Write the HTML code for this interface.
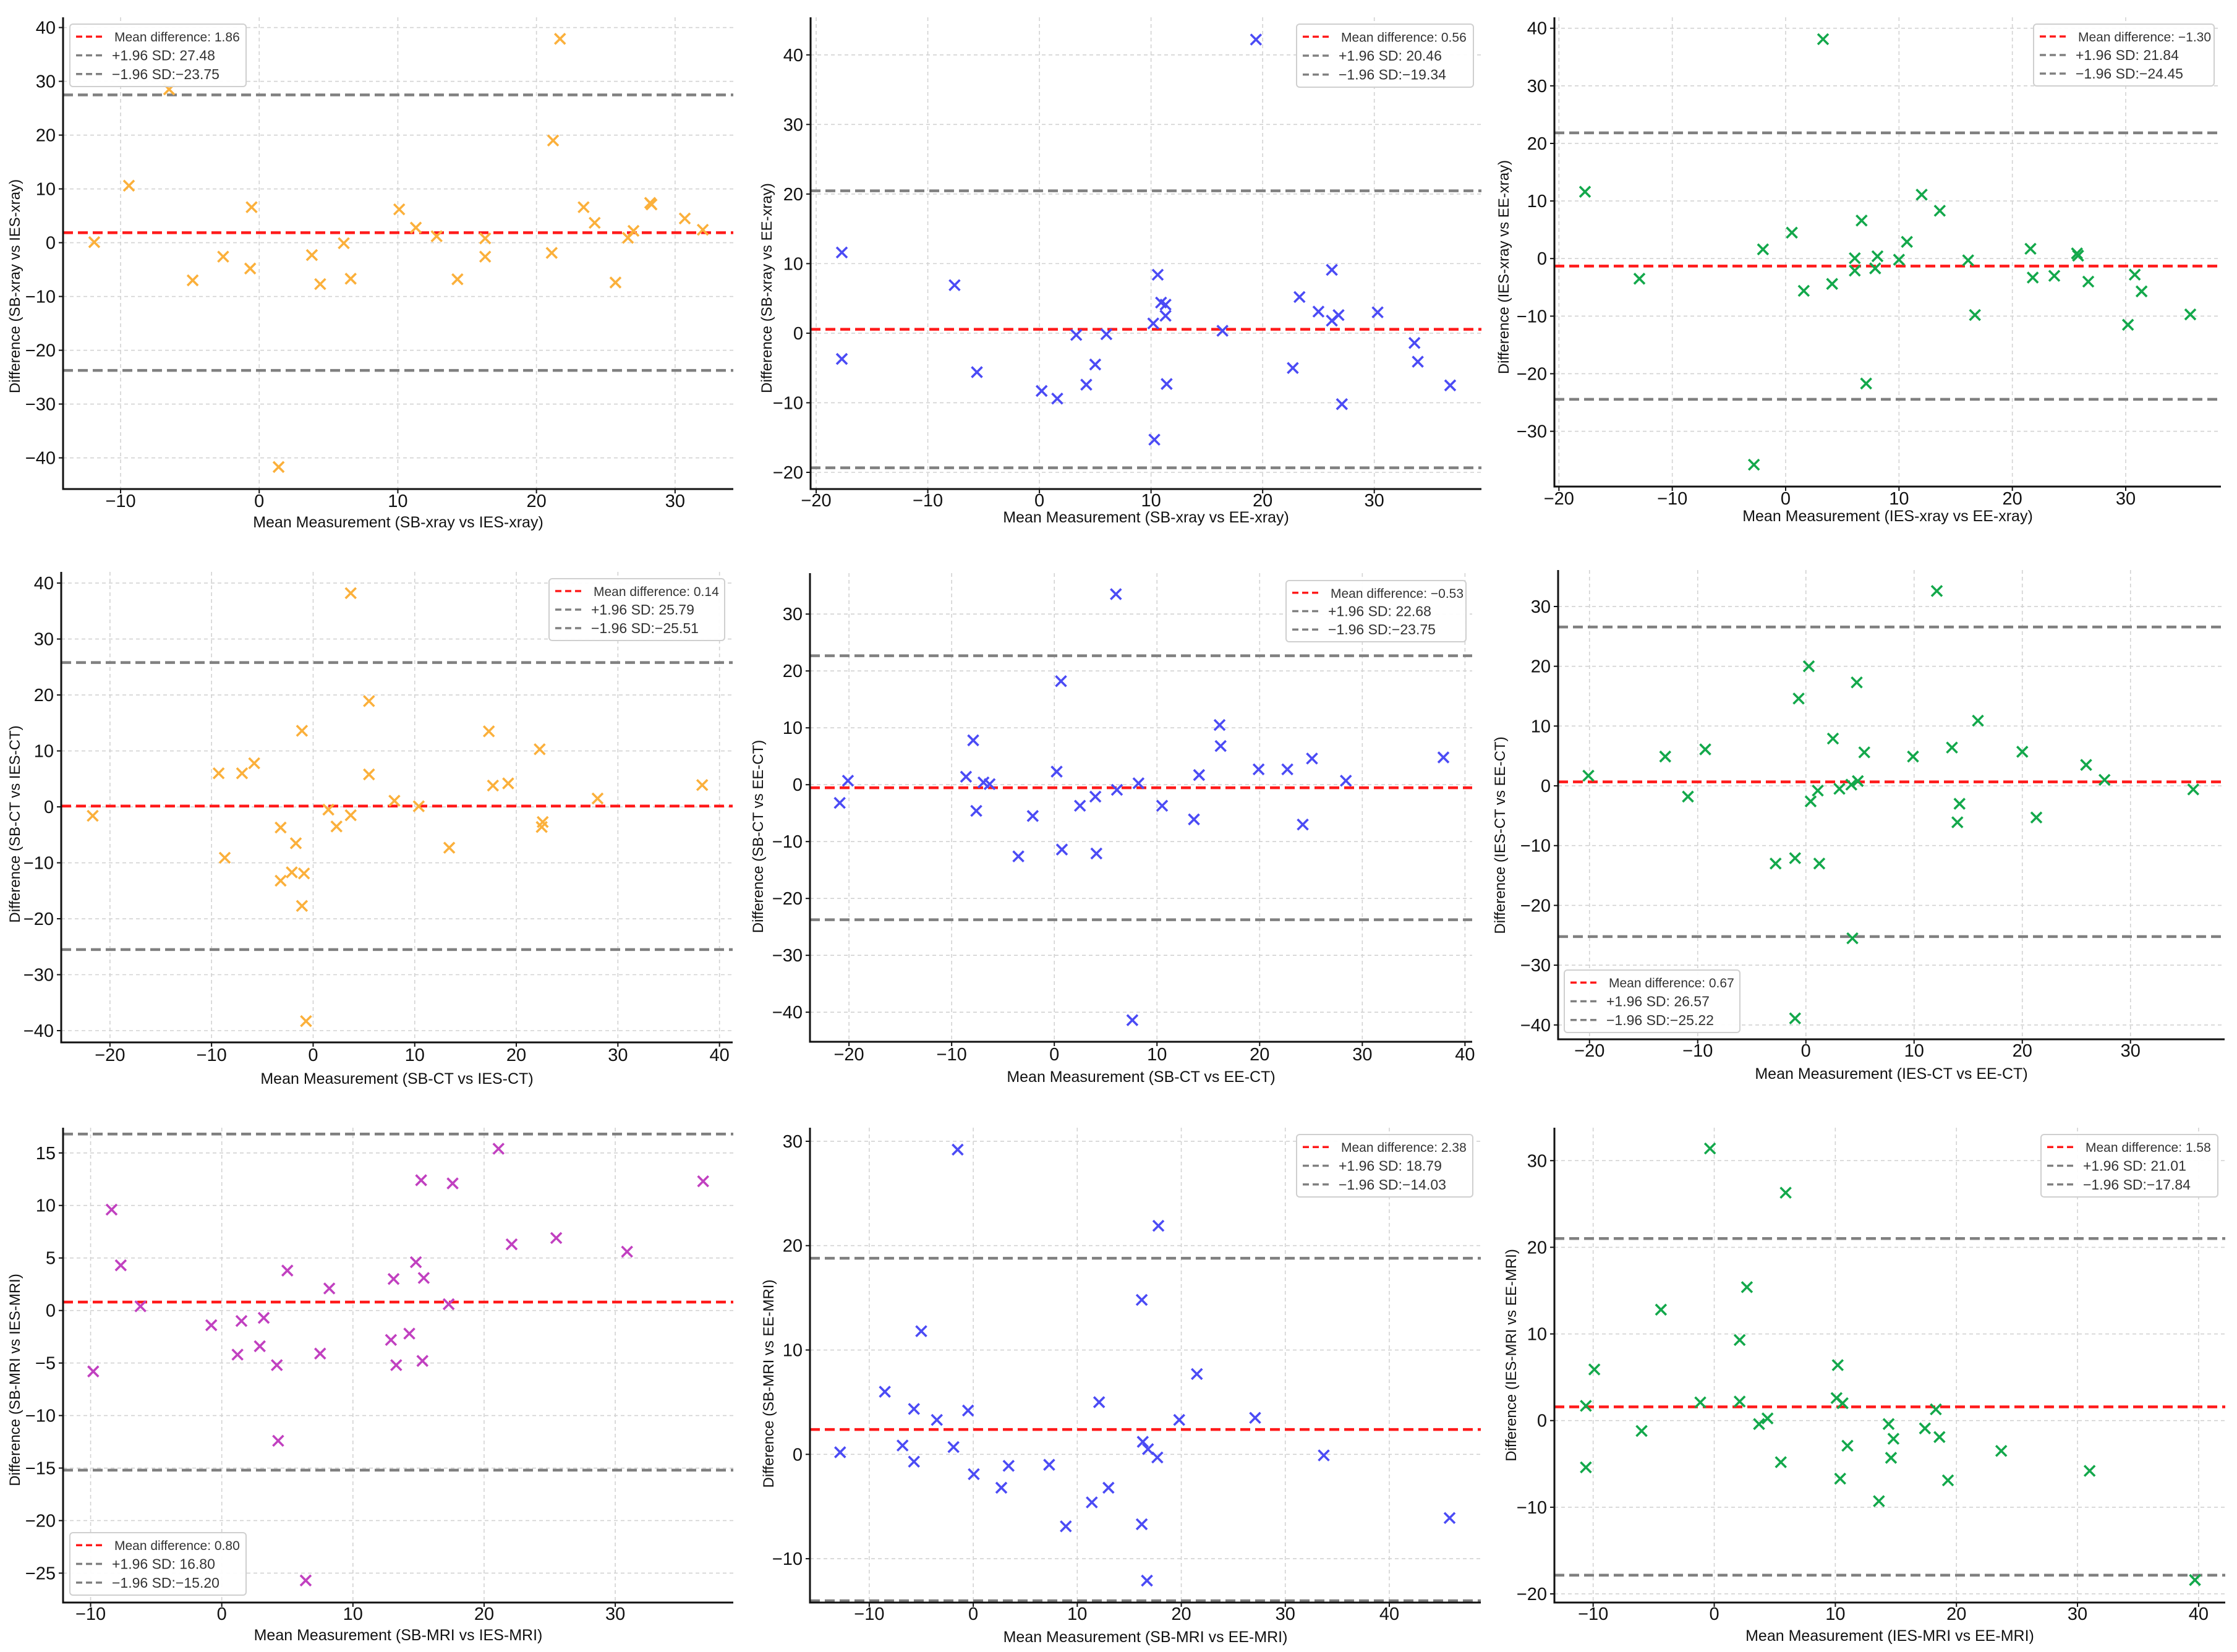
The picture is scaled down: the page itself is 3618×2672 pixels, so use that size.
<!DOCTYPE html>
<html><head><meta charset="utf-8">
<style>
html,body{margin:0;padding:0;background:#fff;}
svg{display:block;}
text{font-family:"Liberation Sans",sans-serif;}
</style></head>
<body>
<svg id="fig" xmlns="http://www.w3.org/2000/svg" width="3618" height="2672" viewBox="0 0 3618 2672"></svg>
<script>
// ---------- Data ----------
const p1X=[21.7,-6.5,21.2,-9.4,-0.55,10.1,23.4,28.2,28.3,30.7,24.2,11.3,32.0,27.0,12.8,26.6,16.3,-11.9,6.1,21.1,-2.6,3.8,16.3,-0.65,-4.8,6.6,14.3,4.4,25.7,1.4];
const p1Y=[37.9,28.5,19.0,10.6,6.6,6.2,6.6,7.4,7.1,4.5,3.7,2.8,2.4,2.2,1.2,0.9,0.8,0.1,-0.1,-1.9,-2.6,-2.3,-2.6,-4.8,-7.0,-6.7,-6.8,-7.7,-7.4,-41.7];
const p1Stats=[1.86,27.48,-23.75];
const p2X=[19.4,-17.7,-17.7,-7.6,-5.6,0.2,1.6,3.3,4.2,5.0,6.0,10.2,10.3,10.6,10.9,11.3,11.3,11.4,16.4,22.7,23.3,25.0,26.2,26.2,26.8,27.1,30.3,33.6,33.9,36.8];
const p2Y=[42.2,11.6,-3.7,6.9,-5.6,-8.3,-9.4,-0.25,-7.4,-4.5,-0.15,1.4,-15.3,8.4,4.4,4.1,2.5,-7.3,0.35,-5.0,5.2,3.1,9.1,1.8,2.6,-10.2,3.0,-1.4,-4.1,-7.5];
const p2Stats=[0.56,20.46,-19.34];
const p3X=[3.3,-17.7,-12.9,-2.0,0.55,1.6,4.1,-2.8,6.1,6.1,6.7,7.1,7.9,8.1,10.0,10.7,12.0,13.6,16.1,16.7,21.6,21.8,23.7,25.7,25.8,26.7,30.2,30.8,31.4,35.7];
const p3Y=[38.1,11.6,-3.5,1.6,4.5,-5.6,-4.4,-35.8,0.06,-2.1,6.6,-21.7,-1.7,0.4,-0.2,2.9,11.1,8.3,-0.3,-9.8,1.7,-3.3,-3.0,0.9,0.5,-4.0,-11.5,-2.8,-5.7,-9.7];
const p3Stats=[-1.30,21.84,-24.45];
const p4X=[3.7,5.5,-1.1,17.3,22.3,-5.8,-9.3,-7.0,5.5,17.7,19.2,38.3,28.0,8.0,10.4,-21.7,1.5,3.7,2.3,-3.2,22.6,22.5,-1.7,13.4,-8.7,-2.1,-0.9,-3.2,-1.1,-0.7];
const p4Y=[38.2,18.9,13.6,13.5,10.3,7.8,6.0,6.0,5.8,3.8,4.2,3.9,1.5,1.1,0.1,-1.6,-0.5,-1.5,-3.5,-3.7,-2.7,-3.6,-6.5,-7.3,-9.1,-11.7,-11.9,-13.2,-17.7,-38.3];
const p4Stats=[0.14,25.79,-25.51];
const p5X=[6.0,0.65,16.1,16.2,-7.9,25.1,37.9,19.9,22.7,0.23,14.1,-8.6,-20.1,28.4,8.2,-6.9,-6.3,6.1,-20.9,4.0,2.5,10.5,-7.6,-2.1,13.6,24.2,0.74,4.1,-3.5,7.6];
const p5Y=[33.5,18.2,10.5,6.8,7.8,4.6,4.8,2.7,2.7,2.3,1.7,1.4,0.7,0.7,0.25,0.4,0.1,-0.9,-3.2,-2.1,-3.7,-3.7,-4.6,-5.5,-6.1,-7.0,-11.4,-12.1,-12.6,-41.4];
const p5Stats=[-0.53,22.68,-23.75];
const p6X=[12.1,0.27,4.7,-0.67,15.9,2.5,13.5,-9.3,20.0,5.4,-13.0,9.9,25.9,-20.1,27.6,4.8,4.2,3.1,1.1,35.8,0.44,-10.9,14.2,14.0,21.3,-1.0,-2.8,1.24,4.3,-1.0];
const p6Y=[32.6,20.0,17.3,14.6,10.9,7.9,6.4,6.1,5.7,5.6,4.9,4.9,3.5,1.7,1.0,0.8,0.2,-0.5,-0.8,-0.6,-2.6,-1.8,-3.0,-6.1,-5.3,-12.1,-13.0,-13.0,-25.5,-38.9];
const p6Stats=[0.67,26.57,-25.22];
const p7X=[21.1,15.2,17.6,36.7,-8.4,25.5,22.1,30.9,-7.7,14.8,5.0,13.1,15.4,8.2,17.3,-6.2,-0.8,1.5,3.2,14.3,12.9,2.9,1.2,7.5,4.2,13.3,15.3,-9.8,4.3,6.4];
const p7Y=[15.4,12.4,12.1,12.3,9.6,6.9,6.3,5.6,4.3,4.6,3.8,3.0,3.1,2.1,0.6,0.4,-1.4,-1.0,-0.7,-2.2,-2.8,-3.4,-4.2,-4.1,-5.2,-5.2,-4.8,-5.8,-12.4,-25.7];
const p7Stats=[0.80,16.80,-15.20];
const p8X=[-1.5,17.8,16.2,-5.0,21.5,-8.5,12.1,-5.7,-0.5,-3.5,19.8,27.1,-6.8,16.3,-1.9,16.8,-12.8,17.7,33.7,-5.7,3.4,7.3,0.05,2.7,13.0,11.4,8.9,16.2,45.8,16.7];
const p8Y=[29.2,21.9,14.8,11.8,7.7,6.0,5.0,4.35,4.2,3.3,3.3,3.5,0.85,1.2,0.7,0.5,0.2,-0.3,-0.1,-0.7,-1.1,-1.0,-1.9,-3.2,-3.2,-4.6,-6.9,-6.7,-6.1,-12.1];
const p8Stats=[2.38,18.79,-14.03];
const p9X=[-0.35,5.9,2.7,-4.4,2.1,-9.9,10.2,-10.6,-1.15,2.1,10.1,10.6,18.3,4.4,3.7,14.4,-6.0,17.4,14.8,18.6,11.0,23.7,14.6,-10.6,5.5,31.0,10.4,19.3,13.6,39.7];
const p9Y=[31.4,26.3,15.4,12.8,9.3,5.9,6.4,1.7,2.1,2.2,2.6,2.0,1.3,0.25,-0.4,-0.4,-1.2,-0.9,-2.1,-1.9,-2.9,-3.5,-4.3,-5.4,-4.8,-5.8,-6.7,-6.9,-9.3,-18.4];
const p9Stats=[1.58,21.01,-17.84];

const xTicksA=[-10,0,10,20,30];
const xTicksB=[-20,-10,0,10,20,30];
const xTicksC=[-20,-10,0,10,20,30,40];
const xTicksD=[-10,0,10,20,30,40];
const yTicks1=[-40,-30,-20,-10,0,10,20,30,40];
const yTicks2=[-20,-10,0,10,20,30,40];
const yTicks3=[-30,-20,-10,0,10,20,30,40];
const yTicks4=[-40,-30,-20,-10,0,10,20,30,40];
const yTicks5=[-40,-30,-20,-10,0,10,20,30];
const yTicks6=[-40,-30,-20,-10,0,10,20,30];
const yTicks7=[-25,-20,-15,-10,-5,0,5,10,15];
const yTicks8=[-10,0,10,20,30];
const yTicks9=[-20,-10,0,10,20,30];

// ---------- Layout ----------
const ORANGE='#fbb03b',BLUE='#4b4bf5',GREEN='#13a84b',MAG='#c140c0';
const panels=[
 {key:'sb-xray-vs-ies-xray',box:[102,28,1186,791],xd:[-14.15,34.2],yd:[-45.8,41.9],xt:xTicksA,yt:yTicks1,c:ORANGE,X:p1X,Y:p1Y,S:p1Stats,xl:'Mean Measurement (SB-xray vs IES-xray)',yl:'Difference (SB-xray vs IES-xray)',lg:[113,39,398,140],tk:820,tt:853,ylx:23,yly:463},
 {key:'sb-xray-vs-ee-xray',box:[1311,28,2396,791],xd:[-20.5,39.6],yd:[-22.4,45.4],xt:xTicksB,yt:yTicks2,c:BLUE,X:p2X,Y:p2Y,S:p2Stats,xl:'Mean Measurement (SB-xray vs EE-xray)',yl:'Difference (SB-xray vs EE-xray)',lg:[2097,39,2383,141],tk:819,tt:845,ylx:1239,yly:466},
 {key:'ies-xray-vs-ee-xray',box:[2514,28,3592,787],xd:[-20.4,38.4],yd:[-39.6,41.9],xt:xTicksB,yt:yTicks3,c:GREEN,X:p3X,Y:p3Y,S:p3Stats,xl:'Mean Measurement (IES-xray vs EE-xray)',yl:'Difference (IES-xray vs EE-xray)',lg:[3289,39,3581,139],tk:816,tt:843,ylx:2431,yly:432},
 {key:'sb-ct-vs-ies-ct',box:[99,925,1185,1686],xd:[-24.8,41.3],yd:[-42.1,42.0],xt:xTicksC,yt:yTicks4,c:ORANGE,X:p4X,Y:p4Y,S:p4Stats,xl:'Mean Measurement (SB-CT vs IES-CT)',yl:'Difference (SB-CT vs IES-CT)',lg:[888,936,1172,1036],tk:1716,tt:1753,ylx:23,yly:1333},
 {key:'sb-ct-vs-ee-ct',box:[1310,927,2381,1685],xd:[-23.8,40.7],yd:[-45.2,37.2],xt:xTicksC,yt:yTicks5,c:BLUE,X:p5X,Y:p5Y,S:p5Stats,xl:'Mean Measurement (SB-CT vs EE-CT)',yl:'Difference (SB-CT vs EE-CT)',lg:[2080,939,2371,1038],tk:1715,tt:1750,ylx:1225,yly:1353},
 {key:'ies-ct-vs-ee-ct',box:[2520,922,3598,1681],xd:[-22.9,38.7],yd:[-42.4,36.1],xt:xTicksB,yt:yTicks6,c:GREEN,X:p6X,Y:p6Y,S:p6Stats,xl:'Mean Measurement (IES-CT vs EE-CT)',yl:'Difference (IES-CT vs EE-CT)',lg:[2530,1569,2814,1670],tk:1709,tt:1745,ylx:2425,yly:1351},
 {key:'sb-mri-vs-ies-mri',box:[102,1824,1186,2592],xd:[-12.1,39.0],yd:[-27.8,17.4],xt:xTicksA,yt:yTicks7,c:MAG,X:p7X,Y:p7Y,S:p7Stats,xl:'Mean Measurement (SB-MRI vs IES-MRI)',yl:'Difference (SB-MRI vs IES-MRI)',lg:[113,2479,398,2580],tk:2620,tt:2653,ylx:23,yly:2232},
 {key:'sb-mri-vs-ee-mri',box:[1310,1824,2395,2592],xd:[-15.7,48.8],yd:[-14.2,31.3],xt:xTicksD,yt:yTicks8,c:BLUE,X:p8X,Y:p8Y,S:p8Stats,xl:'Mean Measurement (SB-MRI vs EE-MRI)',yl:'Difference (SB-MRI vs EE-MRI)',lg:[2097,1835,2382,1936],tk:2620,tt:2656,ylx:1242,yly:2238},
 {key:'ies-mri-vs-ee-mri',box:[2514,1824,3599,2592],xd:[-13.2,42.2],yd:[-21.0,33.8],xt:xTicksD,yt:yTicks9,c:GREEN,X:p9X,Y:p9Y,S:p9Stats,xl:'Mean Measurement (IES-MRI vs EE-MRI)',yl:'Difference (IES-MRI vs EE-MRI)',lg:[3301,1835,3587,1936],tk:2620,tt:2654,ylx:2443,yly:2192}
];

const NS='http://www.w3.org/2000/svg';
const svg=document.getElementById('fig');
function mk(tag,attrs,parent){const e=document.createElementNS(NS,tag);for(const k in attrs)e.setAttribute(k,attrs[k]);(parent||svg).appendChild(e);return e;}
function fmtTick(v){return v<0?'\u2212'+Math.abs(v):String(v);}
function fmtVal(v){return v<0?'\u2212'+Math.abs(v).toFixed(2):v.toFixed(2);}

panels.forEach(function(p){
  const [L,T,R,B]=p.box;
  const sx=v=>L+(v-p.xd[0])/(p.xd[1]-p.xd[0])*(R-L);
  const sy=v=>B-(v-p.yd[0])/(p.yd[1]-p.yd[0])*(B-T);
  const g=mk('g',{});
  
  

  // grid
  p.xt.forEach(function(t){
    const ln=mk('line',{x1:sx(t),x2:sx(t),y1:T,y2:B,stroke:'#d2d2d2','stroke-width':1.6,'stroke-dasharray':'6,5'},g);
    
    
  });
  p.yt.forEach(function(t){
    const ln=mk('line',{x1:L,x2:R,y1:sy(t),y2:sy(t),stroke:'#d2d2d2','stroke-width':1.6,'stroke-dasharray':'6,5'},g);
    
    
  });

  // reference lines
  const refNames=['mean-difference-line','upper-limit-line','lower-limit-line'];
  const refCols=['#ff1a1a','#808080','#808080'];
  p.S.forEach(function(v,i){
    const ln=mk('line',{x1:L,x2:R,y1:sy(v),y2:sy(v),stroke:refCols[i],'stroke-width':4.5,'stroke-dasharray':'16,8'},g);
    
    
  });

  // points
  p.X.forEach(function(xv,i){
    const cx=sx(xv),cy=sy(p.Y[i]),h=8.5;
    const pt=mk('path',{d:'M'+(cx-h)+' '+(cy-h)+'L'+(cx+h)+' '+(cy+h)+'M'+(cx-h)+' '+(cy+h)+'L'+(cx+h)+' '+(cy-h),stroke:p.c,'stroke-width':3.6,fill:'none'},g);
    
    
  });

  // spines
  const ls=mk('line',{x1:L,x2:L,y1:T,y2:B+1.5,stroke:'#111','stroke-width':3},g);
  
  
  const bs=mk('line',{x1:L-1.5,x2:R,y1:B,y2:B,stroke:'#111','stroke-width':3},g);
  
  

  // tick labels
  p.xt.forEach(function(t){
    const tm=mk('line',{x1:sx(t),x2:sx(t),y1:B,y2:B+7,stroke:'#111','stroke-width':2},g);
    
    
    const tx=mk('text',{x:sx(t),y:p.tk,'text-anchor':'middle','font-size':29,fill:'#111'},g);
    tx.textContent=fmtTick(t);
    
    
  });
  p.yt.forEach(function(t){
    const tm=mk('line',{x1:L-7,x2:L,y1:sy(t),y2:sy(t),stroke:'#111','stroke-width':2},g);
    
    
    const tx=mk('text',{x:L-12,y:sy(t)+10,'text-anchor':'end','font-size':29,fill:'#111'},g);
    tx.textContent=fmtTick(t);
    
    
  });

  // axis titles
  const xt=mk('text',{x:(L+R)/2,y:p.tt,'text-anchor':'middle','font-size':25,fill:'#111'},g);
  xt.textContent=p.xl;
  
  
  const yt=mk('text',{x:0,y:0,'text-anchor':'middle','font-size':24,fill:'#111','font-family':'DejaVu Sans, sans-serif',transform:'translate('+(p.ylx+9)+','+p.yly+') rotate(-90)'},g);
  yt.textContent=p.yl;
  
  

  // legend
  const [lx1,ly1,lx2,ly2]=p.lg;
  const lgG=mk('g',{},g);
  
  
  const bx=mk('rect',{x:lx1,y:ly1,width:lx2-lx1,height:ly2-ly1,rx:5,fill:'#fff','fill-opacity':0.92,stroke:'#cfcfcf','stroke-width':2},lgG);
  
  
  const lh=ly2-ly1;
  const labels=['Mean difference: '+fmtVal(p.S[0]),'+1.96 SD: '+fmtVal(p.S[1]),'\u22121.96 SD:'+(p.S[2]<0?'':' ')+fmtVal(p.S[2])];
  const entryNames=['legend-entry-mean','legend-entry-upper','legend-entry-lower'];
  [0.2,0.5,0.8].forEach(function(f,i){
    const yy=ly1+lh*f;
    const ln=mk('line',{x1:lx1+10,x2:lx1+52,y1:yy,y2:yy,stroke:refCols[i],'stroke-width':3.5,'stroke-dasharray':'10,6'},lgG);
    
    
    const tx=mk('text',{x:lx1+(i===0?72:68),y:yy+8,'font-size':i===0?21:23,fill:'#333'},lgG);
    tx.textContent=labels[i];
    
    
  });
});
</script>
</body></html>
